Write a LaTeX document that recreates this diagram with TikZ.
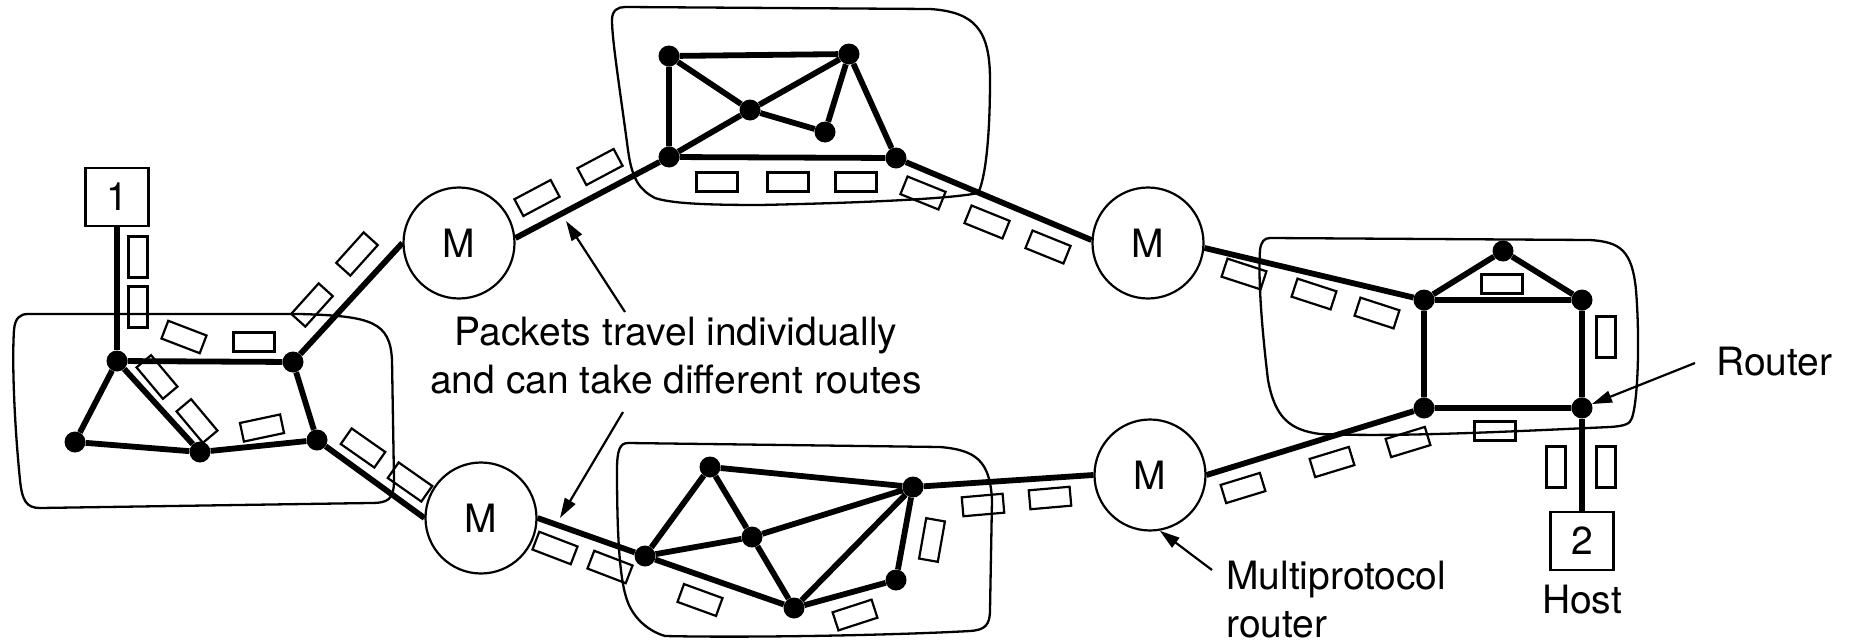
\documentclass[tikz,border=0pt]{standalone}
\usepackage{fontspec}
\setmainfont{TeX Gyre Heros}
\usetikzlibrary{arrows.meta}
\begin{document}
\begin{tikzpicture}[x=1pt,y=-1pt,
  every node/.style={font=\fontsize{39}{48}\selectfont},
  dot/.style={circle,fill=black,inner sep=0pt,minimum size=21pt},
  mrouter/.style={circle,draw,line width=2.2pt,minimum size=111pt,inner sep=0pt},
  hostbox/.style={draw,line width=2.2pt,minimum width=63pt,minimum height=58pt,inner sep=0pt},
  pkt/.style={draw,line width=2.2pt,minimum width=41pt,minimum height=19pt,inner sep=0pt},
  link/.style={line width=5.8pt},
  lan/.style={line width=2.3pt},
  callout/.style={line width=2.2pt,-{Triangle[length=20pt,width=12pt]}},
  lbl/.style={inner sep=0pt}
]
\useasboundingbox (0,0) rectangle (1856,643);

% LAN boundaries
\draw[lan] (28,314) -- (300,314) .. controls (372,316) and (390,322) .. (392,360) -- (394,480) .. controls (394,500) and (388,503) .. (370,503) -- (40,508) .. controls (26,508) and (22,500) .. (20,480) .. controls (14,420) and (12,360) .. (14,330) .. controls (15,318) and (20,314) .. cycle;
\draw[lan] (625,7) -- (930,9) .. controls (975,12) and (990,30) .. (990,80) .. controls (990,140) and (985,180) .. (978,193) .. controls (960,197) and (900,202) .. (760,205) .. controls (700,205) and (670,203) .. (655,198) .. controls (640,190) and (632,180) .. (628,150) .. controls (620,90) and (612,40) .. (612,20) .. controls (612,10) and (618,7) .. cycle;
\draw[lan] (628,443) -- (940,447) .. controls (975,450) and (990,460) .. (992,500) -- (990,610) .. controls (990,625) and (985,630) .. (970,631) .. controls (900,635) and (750,638) .. (665,636) .. controls (645,630) and (632,615) .. (627,600) .. controls (620,580) and (617,540) .. (617,470) .. controls (617,450) and (620,443) .. cycle;
\draw[lan] (1270,238) -- (1590,240) .. controls (1620,242) and (1632,250) .. (1636,290) .. controls (1640,340) and (1638,400) .. (1632,418) .. controls (1630,424) and (1625,426) .. (1610,427) .. controls (1500,432) and (1400,437) .. (1320,434) .. controls (1290,430) and (1275,418) .. (1268,380) .. controls (1262,330) and (1258,280) .. (1260,250) .. controls (1261,242) and (1264,238) .. cycle;

% hosts
\node[hostbox] (H1) at (117,197) {1};
\node[hostbox] (H2) at (1582,541) {2};

% multiprotocol routers
\node[mrouter] (M1) at (459,243) {M};
\node[mrouter] (M2) at (1148,243) {M};
\node[mrouter] (M3) at (481,518) {M};
\node[mrouter] (M4) at (1150,475) {M};

% LAN 1 routers
\node[dot] (A) at (117,361) {};
\node[dot] (B) at (293,362) {};
\node[dot] (C) at (75,442) {};
\node[dot] (D) at (317,440) {};
\node[dot] (E) at (200,452) {};
% LAN 2 routers
\node[dot] (F) at (669,157) {};
\node[dot] (G) at (669,56) {};
\node[dot] (H) at (750,110) {};
\node[dot] (I) at (825,132) {};
\node[dot] (J) at (849,54) {};
\node[dot] (K) at (896,158) {};
% LAN 3 routers
\node[dot] (TL) at (1424,300) {};
\node[dot] (AP) at (1503,251) {};
\node[dot] (TR) at (1582,300) {};
\node[dot] (BL) at (1424,408) {};
\node[dot] (BR) at (1582,408) {};
% LAN 4 routers
\node[dot] (L) at (645,556) {};
\node[dot] (N) at (710,467) {};
\node[dot] (O) at (752,537) {};
\node[dot] (P) at (794,608) {};
\node[dot] (Q) at (913,487) {};
\node[dot] (S) at (896,580) {};

% links
\draw[link] (H1) -- (A);
\draw[link] (A) -- (B) (A) -- (C) (A) -- (E) (C) -- (E) (E) -- (D) (B) -- (D);
\draw[link] (B) -- (M1.west);
\draw[link] (D) -- (M3.west);
\draw[link] (M1.5) -- (F);
\draw[link] (G) -- (J) (G) -- (F) (F) -- (K) (G) -- (H) (H) -- (I) (F) -- (H) (H) -- (J) (J) -- (I) (J) -- (K);
\draw[link] (K) -- (M2.177);
\draw[link] (M2.-5) -- (TL);
\draw[link] (TL) -- (AP) (AP) -- (TR) (TL) -- (TR) (TL) -- (BL) (TR) -- (BR) (BL) -- (BR);
\draw[link] (BR) -- (H2);
\draw[link] (M3.east) -- (L);
\draw[link] (L) -- (N) (L) -- (O) (L) -- (P) (N) -- (O) (O) -- (P) (N) -- (Q) (O) -- (Q) (P) -- (Q) (Q) -- (S) (S) -- (P);
\draw[link] (Q) -- (M4.west);
\draw[link] (M4.east) -- (BL);

% packets, upper route
\node[pkt,rotate=90] (p1) at (138,257) {};
\node[pkt,rotate=90] (p2) at (138,307) {};
\node[pkt,rotate=-21] (p3) at (184,337) {};
\node[pkt] (p4) at (254,342) {};
\node[pkt,rotate=48] (p5) at (312,305) {};
\node[pkt,rotate=48] (p6) at (357,254) {};
\node[pkt,rotate=28] (p7) at (537,198) {};
\node[pkt,rotate=28] (p8) at (600,167) {};
\node[pkt] (p9) at (717,182) {};
\node[pkt] (p10) at (788,182) {};
\node[pkt] (p11) at (856,182) {};
\node[pkt,rotate=-22] (p12) at (923,193) {};
\node[pkt,rotate=-22] (p13) at (987,222) {};
\node[pkt,rotate=-22] (p14) at (1048,247) {};
\node[pkt,rotate=-18] (p15) at (1244,274) {};
\node[pkt,rotate=-18] (p16) at (1314,294) {};
\node[pkt,rotate=-18] (p17) at (1377,313) {};
\node[pkt] (p18) at (1502,284) {};
\node[pkt,rotate=90] (p19) at (1606,337) {};
\node[pkt,rotate=90] (p20) at (1556,467) {};
\node[pkt,rotate=90] (p21) at (1606,467) {};
% packets, lower route
\node[pkt,rotate=-50] (p22) at (157,377) {};
\node[pkt,rotate=-50] (p23) at (197,421) {};
\node[pkt,rotate=12] (p24) at (262,428) {};
\node[pkt,rotate=-35] (p25) at (363,448) {};
\node[pkt,rotate=-35] (p26) at (410,482) {};
\node[pkt,rotate=-21] (p27) at (555,548) {};
\node[pkt,rotate=-21] (p28) at (610,567) {};
\node[pkt,rotate=-20] (p29) at (700,600) {};
\node[pkt,rotate=18] (p30) at (855,615) {};
\node[pkt,rotate=80] (p31) at (932,540) {};
\node[pkt,rotate=5] (p32) at (983,505) {};
\node[pkt,rotate=5] (p33) at (1050,498) {};
\node[pkt,rotate=17] (p34) at (1243,488) {};
\node[pkt,rotate=17] (p35) at (1332,462) {};
\node[pkt,rotate=17] (p36) at (1408,442) {};
\node[pkt] (p37) at (1495,431) {};

% labels
\node[lbl,align=center,anchor=north] (txt) at (676,317) {Packets travel individually\\and can take different routes};
\node[lbl,align=left,anchor=north west] (mp) at (1226,561) {Multiprotocol\\router};
\node[lbl,anchor=base west] (rt) at (1716,375) {Router};
\node[lbl,anchor=base] (hs) at (1582,613) {Host};

% callout arrows
\coordinate (t1) at (625,312);
\coordinate (h1) at (566,221);
\coordinate (t2) at (623,412);
\coordinate (h2) at (560,518);
\coordinate (t3) at (1212,570);
\coordinate (t4) at (1695,363);
\draw[callout] (t1) -- (h1);
\draw[callout] (t2) -- (h2);
\draw[callout] (t3) -- (M4.-80);
\draw[callout] (t4) -- (BR);
\end{tikzpicture}
\end{document}
